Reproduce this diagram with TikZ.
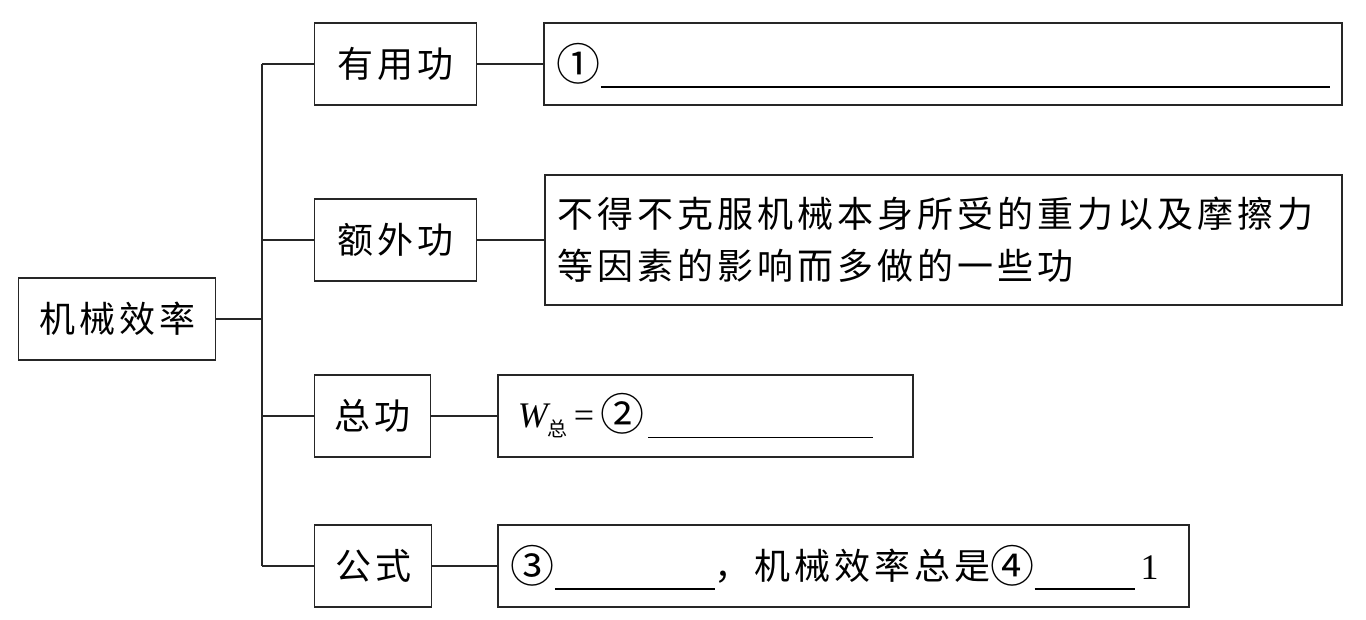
\documentclass[tikz,border=0pt]{standalone}
\usepackage{fontspec}
\setmainfont{Liberation Serif}
\newfontfamily\cjk[LetterSpace=11]{Noto Sans CJK SC}
\usetikzlibrary{positioning}
\newcommand{\blank}[1]{\raisebox{-10pt}[0pt][0pt]{\rule{#1}{1.3pt}}}
\newcommand{\cnum}[1]{\makebox[44pt][l]{\raisebox{-3pt}{\fontsize{44}{44}\selectfont #1}}}
\tikzset{box/.style = {draw=black!85, line width=1.3pt, minimum height=82pt, inner sep=0pt,
                       font=\cjk\fontsize{36}{52}\selectfont},
         info/.style = {box, align=left, inner xsep=13pt},
         link/.style = {draw=black!85, line width=1.3pt}}

\begin{document}
\begin{tikzpicture}[x=1pt, y=-1pt]
    \useasboundingbox (0,0) rectangle (1366,619);

    \node[box, minimum width=197pt, anchor=west] (root) at (18,319) {机械效率};
    \node[box, minimum width=162pt, anchor=west] (useful) at (314,64) {有用功};
    \node[box, minimum width=162pt, anchor=west] (extra) at (314,240) {额外功};
    \node[box, minimum width=116pt, anchor=west] (total) at (314,416) {总功};
    \node[box, minimum width=117pt, anchor=west] (formula) at (314,566) {公式};

    \node[info, text width=772pt] (d1) [right=66pt of useful] {\cnum{①}\blank{729pt}};
    \node[info, text width=771pt, minimum height=130pt] (d2) [right=67pt of extra]
        {不得不克服机械本身所受的重力以及摩擦力\\等因素的影响而多做的一些功};
    \node[info, text width=389pt] (d3) [right=66pt of total]
        {\hspace*{7pt}{\rmfamily\itshape W}\raisebox{-9pt}{\fontsize{20}{20}\selectfont 总}{\rmfamily\,=\,}\cnum{②}\hspace{4pt}\blank{225pt}};
    \node[info, text width=665pt] (d4) [right=65pt of formula]
        {\cnum{③}\blank{160pt}，机械效率总是\cnum{④}\blank{100pt}\hspace{6pt}{\rmfamily 1}};

    \coordinate (ttop) at (262,64);
    \coordinate (tbot) at (262,566);
    \draw[link] (ttop) -- (tbot);
    \draw[link] (root.east) -- (root.east -| ttop);
    \draw[link] (useful.west) -- (useful.west -| ttop);
    \draw[link] (extra.west) -- (extra.west -| ttop);
    \draw[link] (total.west) -- (total.west -| ttop);
    \draw[link] (formula.west) -- (formula.west -| ttop);

    \draw[link] (useful) -- (d1);
    \draw[link] (extra) -- (d2);
    \draw[link] (total) -- (d3);
    \draw[link] (formula) -- (d4);
\end{tikzpicture}
\end{document}
